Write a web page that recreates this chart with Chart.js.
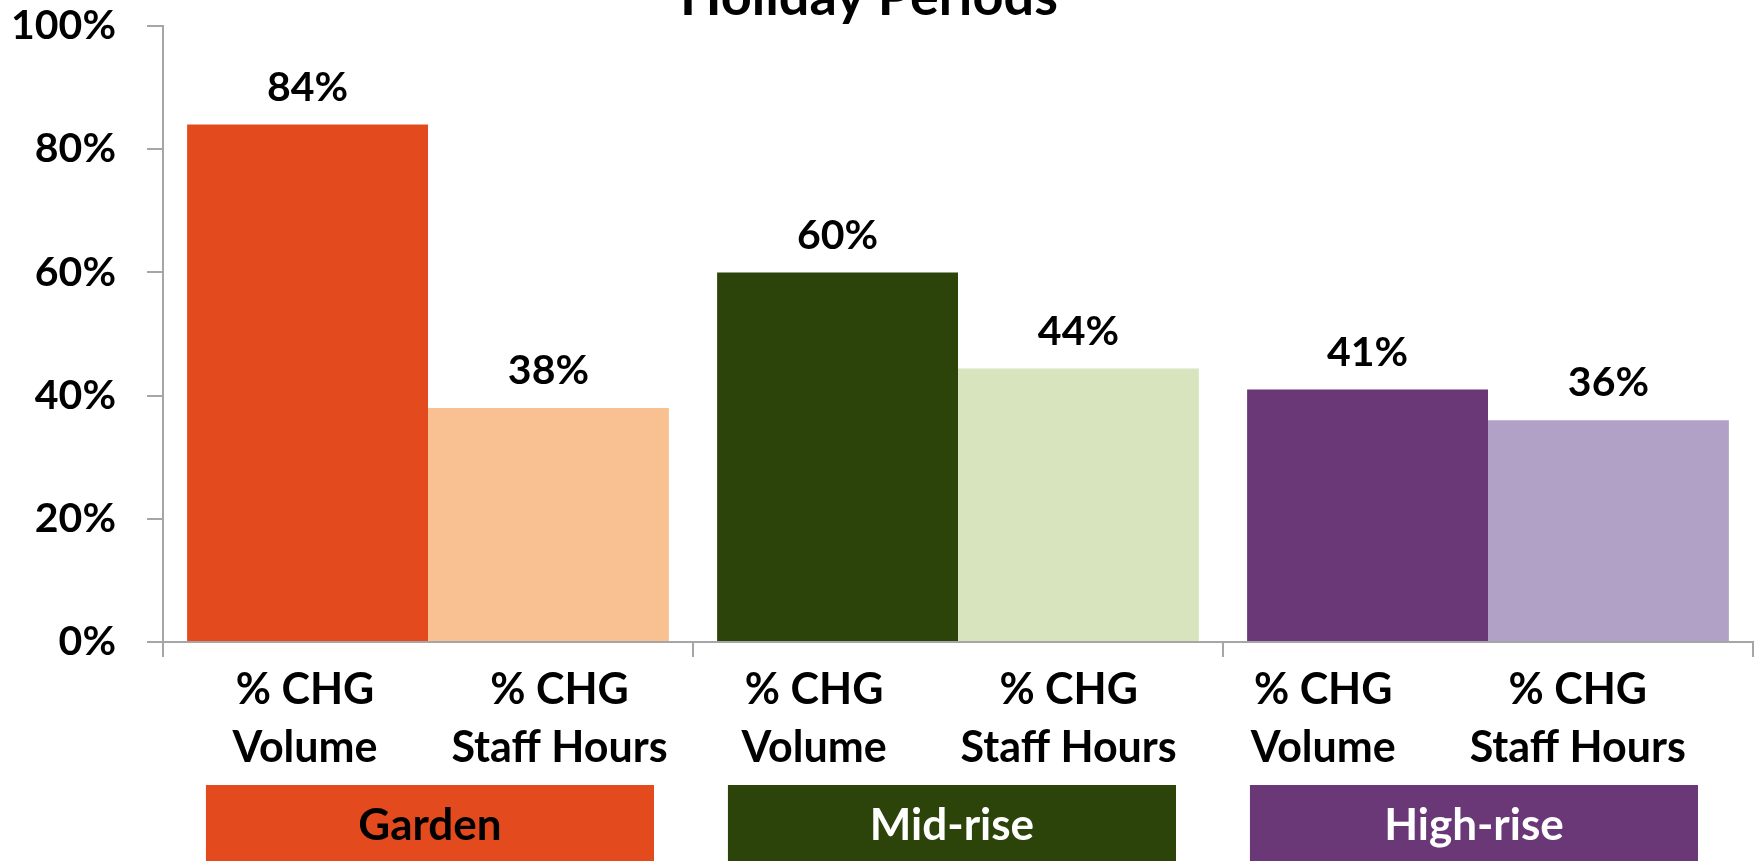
<!DOCTYPE html>
<html>
<head>
<meta charset="utf-8">
<script src="https://cdn.jsdelivr.net/npm/chart.js@4"></script>
<style>
  html, body { margin: 0; padding: 0; background: #ffffff; }
  #wrap { width: 1756px; height: 861px; }
</style>
</head>
<body>
<div id="wrap"><canvas id="c" width="1756" height="861"></canvas></div>
<script>
// ---- data ----
const groups = ["Garden", "Mid-rise", "High-rise"];
const subLabels = [["% CHG", "Volume"], ["% CHG", "Staff Hours"]];
const volumeValues = [84, 60, 41];
const staffHoursValues = [38, 44.4, 36];
const yTickValues = [0, 20, 40, 60, 80, 100];
const titleText = "Holiday Periods";

// ---- styles ----
const volumeColors = ["#E34B1E", "#2C4309", "#6A3777"];
const staffColors = ["#F9C191", "#D8E4BE", "#B2A1C7"];
const groupTextColors = ["#000000", "#ffffff", "#ffffff"];
const FONT = "Lato, 'Open Sans', 'DejaVu Sans', sans-serif";
const axisGray = "#a6a6a6";

const overlay = {
  id: "overlay",
  afterDraw(chart) {
    const ctx = chart.ctx;
    const area = chart.chartArea;
    const x = chart.scales.x;
    ctx.save();
    // title (partially cut off at top)
    ctx.fillStyle = "#000";
    ctx.font = "bold 54px " + FONT;
    ctx.textAlign = "center";
    ctx.textBaseline = "alphabetic";
    ctx.fillText(titleText, x.getPixelForDecimal(0.444), 15);

    // data labels
    ctx.font = "bold 41px " + FONT;
    ctx.textBaseline = "middle";
    chart.data.datasets.forEach((ds, di) => {
      const meta = chart.getDatasetMeta(di);
      meta.data.forEach((bar, i) => {
        ctx.fillText(Math.round(ds.data[i]) + "%", bar.x, bar.y - 37);
      });
    });

    // sub category labels
    ctx.font = "bold 43px " + FONT;
    let k = 0;
    groups.forEach((g, gi) => {
      subLabels.forEach((lines) => {
        const lx = x.getPixelForDecimal(0.0893 + 0.1601 * k);
        ctx.fillText(lines[0], lx, 690);
        ctx.fillText(lines[1], lx, 748);
        k++;
      });
    });

    // group boxes
    const bw = area.width * 0.2818;
    ctx.font = "bold 44px " + FONT;
    groups.forEach((g, gi) => {
      const cx = x.getPixelForDecimal(0.1679 + 0.3283 * gi);
      ctx.fillStyle = volumeColors[gi];
      ctx.fillRect(cx - bw / 2, 785, bw, 80);
      ctx.fillStyle = groupTextColors[gi];
      ctx.fillText(g, cx, 826);
    });
    ctx.restore();
  }
};

new Chart(document.getElementById("c"), {
  type: "bar",
  data: {
    labels: groups,
    datasets: [
      { label: "% CHG Volume", data: volumeValues, backgroundColor: volumeColors,
        categoryPercentage: 0.909, barPercentage: 1.0 },
      { label: "% CHG Staff Hours", data: staffHoursValues, backgroundColor: staffColors,
        categoryPercentage: 0.909, barPercentage: 1.0 }
    ]
  },
  options: {
    responsive: false,
    animation: false,
    devicePixelRatio: 1,
    layout: { padding: { top: 26, right: 3, left: 0, bottom: 0 } },
    plugins: { legend: { display: false }, tooltip: { enabled: false }, title: { display: false } },
    scales: {
      x: {
        ticks: { display: false },
        grid: { offset: true, drawOnChartArea: false, drawTicks: true, tickLength: 15, color: axisGray, lineWidth: 2 },
        border: { display: true, color: axisGray, width: 2 },
        afterFit(s) { s.height = 219; s.paddingLeft = 0; s.paddingRight = 0; }
      },
      y: {
        min: 0, max: 100,
        afterBuildTicks(s) { s.ticks = yTickValues.map(v => ({ value: v })); },
        ticks: {
          callback: v => v + "%",
          color: "#000",
          font: { family: FONT, size: 41, weight: "bold" },
          padding: 31
        },
        grid: { drawOnChartArea: false, drawTicks: true, tickLength: 16, color: axisGray, lineWidth: 2 },
        border: { display: true, color: axisGray, width: 2 },
        afterFit(s) { s.width = 163; s.paddingTop = 0; s.paddingBottom = 0; }
      }
    }
  },
  plugins: [overlay]
});
</script>
</body>
</html>
